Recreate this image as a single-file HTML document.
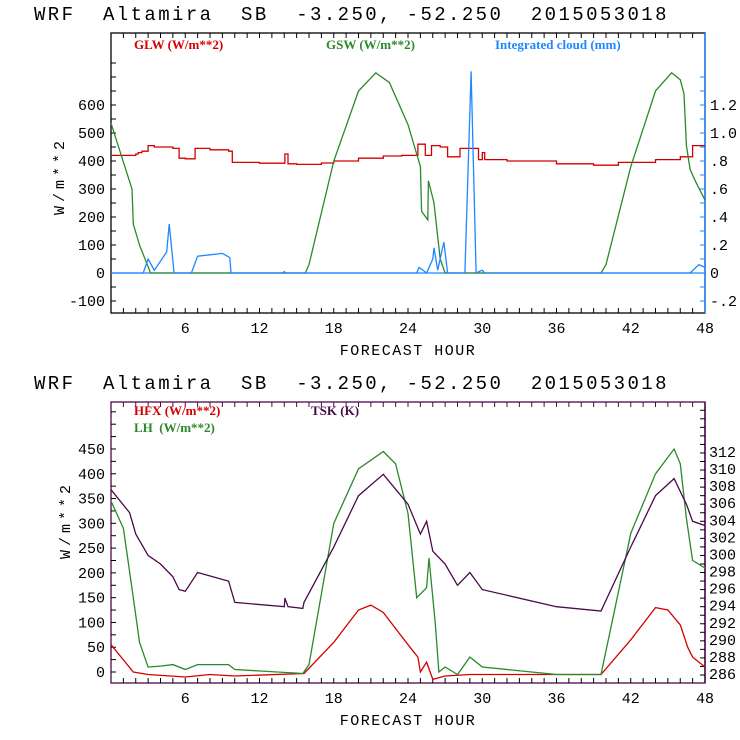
<!DOCTYPE html>
<html><head><meta charset="utf-8">
<style>
html,body{margin:0;padding:0;background:#fff;}
svg{display:block;}
.ttl{font-family:"Liberation Mono",monospace;font-size:19px;fill:#000;letter-spacing:2.4px;white-space:pre;}
.tk{font-family:"Liberation Mono",monospace;font-size:15px;fill:#000;}
.lg{font-family:"Liberation Serif",serif;font-size:13px;font-weight:bold;white-space:pre;}
</style></head>
<body>
<svg id="chart" width="740" height="740" viewBox="0 0 740 740" xmlns="http://www.w3.org/2000/svg"></svg>
<script>
// ---------- data (hours, values) ----------
const glwHours=[0,2,2.2,2.5,3,3.5,5,5.5,6,6.8,8,9.5,9.8,12,14,14.05,14.3,15,17,18,20,22,23.5,24.8,25.4,25.9,26.6,27.2,28.2,29,29.7,30,30.2,32,36,39,41,44,46,47,48];
const glwVals=[420,425,430,435,455,450,445,410,408,445,440,435,395,392,392,425,390,388,393,400,410,418,420,460,420,455,450,415,445,445,405,430,405,400,390,385,395,405,415,455,455];
const gswHours=[0,1.7,1.8,2.3,3.2,15.7,16,18,20,21.4,22.5,24,25,25.1,25.6,25.65,26.1,26.4,26.6,27,39.6,40,42,44,45.3,46,46.3,46.5,46.8,47.2,48];
const gswVals=[535,300,175,100,0,0,30,400,650,715,680,530,380,220,190,330,250,130,50,0,0,30,380,650,715,690,640,455,370,330,260];
const cloudHours=[0,2.6,3,3.5,4.5,4.7,5.1,6.5,7,8,9,9.6,9.7,13.9,14,14.1,24.7,24.9,25.5,26,26.1,26.4,26.9,27.2,28.6,29.1,29.5,30,30.2,46.8,47.5,48];
const cloudVals=[0,0,0.1,0.02,0.15,0.35,0,0,0.12,0.13,0.14,0.11,0,0,0.01,0,0,0.04,0,0.1,0.18,0.02,0.22,0,0,1.44,0,0.02,0,0,0.06,0.04];
const hfxHours=[0,1.8,3,6,8,10,15.6,18,20,21,22,24,24.8,25,25.5,26,27,29,36,39.6,42,44,45,46,46.6,47,48];
const hfxVals=[55,0,-5,-10,-5,-8,-3,60,125,135,120,55,30,0,20,-15,-8,-5,-5,-5,65,130,125,95,50,30,10];
const lhHours=[0,1,1.8,2.3,3,4,5,6,7,9.5,10,15.5,16,18,20,22,23,24,24.7,25.5,25.7,26.2,26.5,27,28,29,30,36,39.6,42,44,45.5,46,46.5,47,48];
const lhVals=[345,290,150,60,10,12,15,5,15,15,5,-3,15,300,410,445,420,320,150,170,230,100,0,10,-5,30,10,-5,-5,280,400,450,420,310,225,210];
const tskHours=[0,1.5,2,3,4,5,5.5,6,7,9.5,10,14,14.05,14.3,15.5,15.6,18,20,22,24,25,25.5,26,27,28,29,30,36,39.6,42,44,45.5,46.5,47,48];
const tskVals=[307.7,305,302.5,300,299,297.5,296,295.8,298,297,294.5,294,295,294,293.8,294.5,301,307,309.5,306,302.5,304,300.5,299,296.5,298,296,294,293.5,301,307,309,306,304,303.5];
const xTicks=[6,12,18,24,30,36,42,48];
const topLeftTicks=[-100,0,100,200,300,400,500,600];
const topRightTicks=[-0.2,0,0.2,0.4,0.6,0.8,1.0,1.2];
const topRightLabels=["-.2","0",".2",".4",".6",".8","1.0","1.2"];
const botLeftTicks=[0,50,100,150,200,250,300,350,400,450];
const botRightTicks=[286,288,290,292,294,296,298,300,302,304,306,308,310,312];

const NS="http://www.w3.org/2000/svg";
const svg=document.getElementById('chart');
function mk(tag,attrs,parent){const e=document.createElementNS(NS,tag);for(const k in attrs)e.setAttribute(k,attrs[k]);(parent||svg).appendChild(e);return e;}
const x=h=>111+h*(705-111)/48;
const yT=v=>273-v*0.28;
const yTR=v=>273-v*140;
const yB=v=>672-v*0.4956;
const yBR=v=>675-(v-286)*8.54;

function panel(top,bot,title,rightColor,borderColor,name){
  const g=mk('g',{});
  
  
  const t=mk('text',{x:34,y:top-13,class:'ttl'},g);
  t.textContent=title;
  
  
  mk('rect',{x:111,y:top,width:594,height:bot-top,fill:'none',stroke:borderColor,'stroke-width':1.3},g);
  mk('line',{x1:705,y1:top,x2:705,y2:bot,stroke:rightColor,'stroke-width':1.5},g);
  for(let h=1;h<48;h++){
    mk('line',{x1:x(h),y1:top,x2:x(h),y2:top+5,stroke:borderColor},g);
    mk('line',{x1:x(h),y1:bot,x2:x(h),y2:bot-5,stroke:'#000'},g);
  }
  xTicks.forEach(h=>{
    const l=mk('text',{x:x(h),y:bot+20,class:'tk','text-anchor':'middle'},g);
    l.textContent=h;
    
    
  });
  const xt=mk('text',{x:408,y:bot+42,class:'tk','text-anchor':'middle','font-size':'17','letter-spacing':'1.5'},g);
  xt.textContent='FORECAST HOUR';
  
  
  return g;
}
function line(g,hs,vs,yf,color,name,step){
  let d='';
  hs.forEach((h,i)=>{
    if(i&&step) d+='L'+x(h).toFixed(1)+','+yf(vs[i-1]).toFixed(1);
    d+=(i?'L':'M')+x(h).toFixed(1)+','+yf(vs[i]).toFixed(1);
  });
  const p=mk('path',{d:d,fill:'none',stroke:color,'stroke-width':1.3},g);
  
  
}
function lab(g,xx,yy,txt,anchor,color,name){
  const t=mk('text',{x:xx,y:yy,class:'tk','text-anchor':anchor},g);
  t.textContent=txt;t.style.fill=color;
  
  
}
const title='WRF  Altamira  SB  -3.250, -52.250  2015053018';
// ---- top panel ----
const g1=panel(33,313,title,'#1e88ff','#000','top-panel');
for(let v=-100;v<=750;v+=50){mk('line',{x1:111,y1:yT(v),x2:116,y2:yT(v),stroke:'#000'},g1);}
topLeftTicks.forEach(v=>lab(g1,105,yT(v)+5,String(v),'end','#000','y-tick-label'));
for(let v=-0.2;v<=1.5;v+=0.1){mk('line',{x1:705,y1:yTR(v),x2:700,y2:yTR(v),stroke:'#1e88ff'},g1);}
topRightTicks.forEach((v,i)=>lab(g1,710,yTR(v)+5,topRightLabels[i],'start','#000','y2-tick-label'));
const yl1=mk('text',{transform:'translate(64,176) rotate(-90)',class:'tk','text-anchor':'middle','font-size':'19','letter-spacing':'4'},g1);
yl1.textContent='W/m**2';


mk('line',{x1:111,y1:yT(0),x2:705,y2:yT(0),stroke:'#1e88ff','stroke-width':1.2},g1);
line(g1,glwHours,glwVals,yT,'#d40000','glw-line',true);
line(g1,gswHours,gswVals,yT,'#2a8a2a','gsw-line');
line(g1,cloudHours,cloudVals,yTR,'#1e88ff','cloud-line');
[[134,'GLW (W/m**2)','#d40000','legend-glw'],[326,'GSW (W/m**2)','#2a8a2a','legend-gsw'],[495,'Integrated cloud (mm)','#1e88ff','legend-cloud']].forEach(a=>{
  const t=mk('text',{x:a[0],y:49,class:'lg',fill:a[2]},g1);t.textContent=a[1];
  
});
// ---- bottom panel ----
const g2=panel(402,683,title,'#4b0a4b','#4b0a4b','bottom-panel');
for(let v=-25;v<=525;v+=25){if(yB(v)>402&&yB(v)<683)mk('line',{x1:111,y1:yB(v),x2:116,y2:yB(v),stroke:'#000'},g2);}
botLeftTicks.forEach(v=>lab(g2,105,yB(v)+5,String(v),'end','#000','y-tick-label'));
for(let v=286;v<=318;v+=1){if(yBR(v)>402)mk('line',{x1:705,y1:yBR(v),x2:700,y2:yBR(v),stroke:'#000'},g2);}
botRightTicks.forEach(v=>{const t=mk('text',{x:709,y:yBR(v)+4,class:'tk','font-size':'10'},g2);t.textContent=v;
  });
const yl2=mk('text',{transform:'translate(70,520) rotate(-90)',class:'tk','text-anchor':'middle','font-size':'19','letter-spacing':'4'},g2);
yl2.textContent='W/m**2';


line(g2,hfxHours,hfxVals,yB,'#d40000','hfx-line');
line(g2,lhHours,lhVals,yB,'#2a8a2a','lh-line');
line(g2,tskHours,tskVals,yBR,'#4b0a4b','tsk-line');
[[134,415,'HFX (W/m**2)','#d40000','legend-hfx'],[134,432,'LH  (W/m**2)','#2a8a2a','legend-lh'],[311,415,'TSK (K)','#4b0a4b','legend-tsk']].forEach(a=>{
  const t=mk('text',{x:a[0],y:a[1],class:'lg',fill:a[3]},g2);t.textContent=a[2];
  
});
</script>
</body></html>
